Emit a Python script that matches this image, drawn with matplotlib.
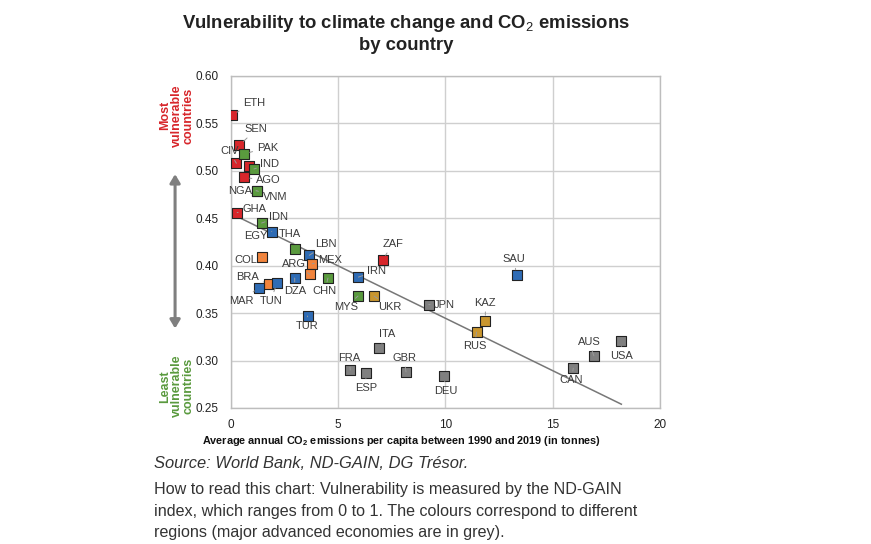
import numpy as np
import matplotlib
matplotlib.use('Agg')
import matplotlib.pyplot as plt

plt.rcParams['font.family'] = ['Liberation Sans', 'DejaVu Sans']
plt.rcParams['mathtext.fontset'] = 'custom'
plt.rcParams['mathtext.rm'] = 'Liberation Sans'
plt.rcParams['mathtext.bf'] = 'Liberation Sans:bold'

# country data: CO2 per capita (t), ND-GAIN vulnerability, region
countries = ['ETH', 'SEN', 'CIV', 'PAK', '', 'IND', 'AGO', 'NGA', 'VNM', 'GHA',
             'IDN', 'EGY', 'THA', 'LBN', 'MEX', 'COL', 'ARG', 'DZA', 'CHN', 'BRA',
             'TUN', 'MAR', 'TUR', 'MYS', 'UKR', 'IRN', 'ZAF', 'SAU', 'JPN', 'KAZ',
             'RUS', 'ITA', 'FRA', 'ESP', 'GBR', 'DEU', 'AUS', 'USA', 'CAN']
co2 = [0.05, 0.39, 0.25, 0.62, 0.82, 1.07, 0.62, 1.20, 1.20, 0.29,
       1.43, 1.90, 2.98, 3.65, 3.79, 1.46, 3.68, 2.97, 4.52, 1.76,
       2.14, 1.30, 3.57, 5.92, 6.67, 5.94, 7.07, 13.32, 9.22, 11.86,
       11.45, 6.91, 5.56, 6.29, 8.16, 9.93, 16.92, 18.20, 15.96]
vuln = [0.559, 0.527, 0.508, 0.518, 0.505, 0.502, 0.493, 0.479, 0.479, 0.456,
        0.445, 0.436, 0.418, 0.411, 0.402, 0.409, 0.391, 0.387, 0.387, 0.381,
        0.382, 0.377, 0.347, 0.368, 0.368, 0.388, 0.406, 0.390, 0.359, 0.342,
        0.330, 0.313, 0.290, 0.287, 0.288, 0.284, 0.305, 0.321, 0.292]
region = ['ssa', 'ssa', 'ssa', 'asia', 'ssa', 'asia', 'ssa', 'ssa', 'asia', 'ssa',
          'asia', 'mena', 'asia', 'mena', 'latam', 'latam', 'latam', 'mena', 'asia', 'latam',
          'mena', 'mena', 'mena', 'asia', 'eur', 'mena', 'ssa', 'mena', 'adv', 'eur',
          'eur', 'adv', 'adv', 'adv', 'adv', 'adv', 'adv', 'adv', 'adv']

trend_x = [0.0, 18.2]
trend_y = [0.455, 0.254]

colors = {'ssa': '#d7262b', 'asia': '#5a9a3e', 'mena': '#2f6cb5',
          'latam': '#f2843c', 'eur': '#c9962f', 'adv': '#808080'}

# label offsets in pixels (dx, dy up)
offsets = {'ETH': (22, 12), 'SEN': (17, 16), 'CIV': (-7, 12), 'PAK': (23, 6),
           'IND': (16, 5), 'AGO': (24, -3), 'NGA': (-17, 0), 'VNM': (18, -6),
           'GHA': (17, 4), 'IDN': (17, 6), 'EGY': (-16, -4), 'THA': (-5, 15),
           'LBN': (17, 11), 'MEX': (18, 4), 'COL': (-16, -3), 'ARG': (-16, 10),
           'DZA': (0, -13), 'CHN': (-3, -13), 'BRA': (-21, 7), 'TUN': (-6, -18),
           'MAR': (-17, -13), 'TUR': (0, -10), 'MYS': (-12, -11), 'UKR': (16, -11),
           'IRN': (18, 6), 'ZAF': (10, 16), 'SAU': (-3, 16), 'JPN': (16, 0),
           'KAZ': (0, 18), 'RUS': (-2, -14), 'ITA': (8, 14), 'FRA': (-1, 12),
           'ESP': (0, -15), 'GBR': (-2, 14), 'DEU': (2, -15), 'AUS': (-5, 14),
           'USA': (0, -15), 'CAN': (-2, -12)}

fig = plt.figure(figsize=(8.71, 5.44), dpi=100)
ax = fig.add_axes([0.2652, 0.25, 0.4925, 0.6103])

ax.set_xlim(0, 20)
ax.set_ylim(0.25, 0.60)
ax.set_xticks([0, 5, 10, 15, 20])
ax.set_yticks(np.arange(0.25, 0.601, 0.05))
ax.yaxis.set_major_formatter(matplotlib.ticker.FormatStrFormatter('%.2f'))
ax.grid(True, color='#cfcfcf', lw=1.0)
ax.set_axisbelow(True)
for s in ax.spines.values():
    s.set_color('#bdbdbd')
    s.set_linewidth(1.0)
ax.tick_params(length=0, labelsize=8.5, colors='#222222')
ax.tick_params(axis='y', pad=9)
ax.tick_params(axis='x', pad=8)

ax.plot(trend_x, trend_y, color='#777777', lw=1.1, zorder=2)

for name, x, y, r in zip(countries, co2, vuln, region):
    ax.scatter(x, y, s=44, marker='s', color=colors[r], edgecolor='#222222',
               linewidth=0.8, zorder=3)
    if name:
        dx, dy = offsets[name]
        ax.annotate(name, (x, y), xytext=(dx, dy), textcoords='offset pixels',
                    ha='center', va='center', fontsize=8, color='#3a3a3a',
                    arrowprops=dict(arrowstyle='-', color='#9a9a9a', lw=0.7,
                                    shrinkA=1, shrinkB=4), zorder=4)

fig.text(0.466, 0.976, r'Vulnerability to climate change and CO$_2$ emissions' + '\nby country',
         ha='center', va='top', fontsize=13.3, fontweight='bold', color='#222222',
         linespacing=1.25)

fig.text(0.461, 0.19, r'Average annual CO$_\mathbf{2}$ emissions per capita between 1990 and 2019 (in tonnes)',
         ha='center', va='center', fontsize=7.8, fontweight='bold', color='#111111')

# side annotations
fig.text(0.203, 0.787, 'Most\nvulnerable\ncountries', rotation=90, ha='center', va='center',
         fontsize=9, fontweight='bold', color='#d7262b', linespacing=1.0)
fig.text(0.203, 0.29, 'Least\nvulnerable\ncountries', rotation=90, ha='center', va='center',
         fontsize=9, fontweight='bold', color='#5a9a3e', linespacing=1.0)
fig.add_artist(matplotlib.patches.FancyArrowPatch(
    (0.201, 0.685), (0.201, 0.391), transform=fig.transFigure,
    arrowstyle='<|-|>,head_length=5,head_width=3', color='#7f7f7f', lw=2.2))

fig.text(0.177, 0.148, 'Source: World Bank, ND-GAIN, DG Trésor.', ha='left', va='center',
         fontsize=11.9, style='italic', color='#333333')
fig.text(0.177, 0.114, 'How to read this chart: Vulnerability is measured by the ND-GAIN\n'
         'index, which ranges from 0 to 1. The colours correspond to different\n'
         'regions (major advanced economies are in grey).',
         ha='left', va='top', fontsize=11.6, color='#333333', linespacing=1.55)

fig.savefig('out.png', dpi=100)
